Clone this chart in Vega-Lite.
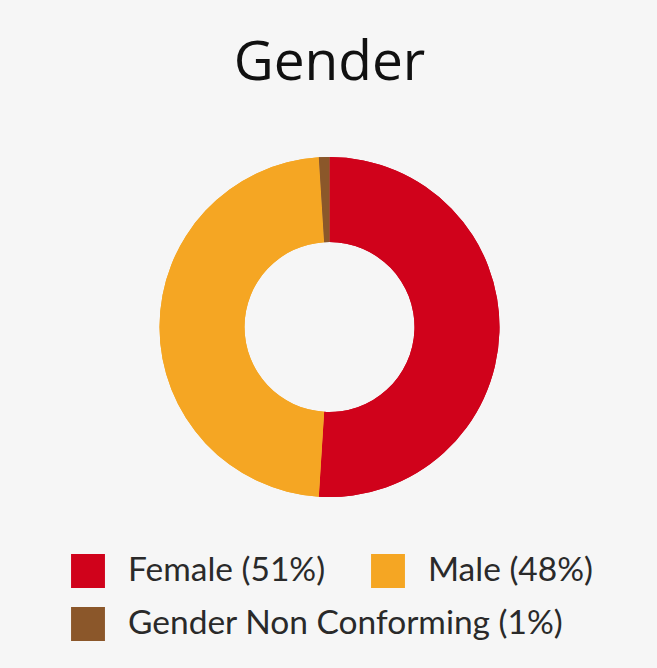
{
  "$schema": "https://vega.github.io/schema/vega-lite/v6.json",
  "autosize": "none",
  "width": 655,
  "height": 654,
  "padding": {"left": 2, "top": 0, "right": 0, "bottom": 14},
  "background": "#f6f6f6",
  "title": {
    "text": "Gender",
    "anchor": "middle",
    "orient": "top",
    "offset": -92,
    "font": "Open Sans",
    "fontSize": 55,
    "fontWeight": "normal",
    "color": "#111111"
  },
  "data": {
    "values": [
      {"gender": "Female (51%)", "value": 51, "order": 1},
      {"gender": "Male (48%)", "value": 48, "order": 2},
      {"gender": "Gender Non Conforming (1%)", "value": 1, "order": 3}
    ]
  },
  "layer": [
    {
      "mark": {"type": "arc", "outerRadius": 170, "innerRadius": 85, "stroke": null},
      "encoding": {
        "theta": {"field": "value", "type": "quantitative", "stack": true},
        "order": {"field": "order", "type": "quantitative"},
        "color": {
          "field": "gender",
          "type": "nominal",
          "scale": {
            "domain": ["Female (51%)", "Male (48%)", "Gender Non Conforming (1%)"],
            "range": ["#d0021b", "#f5a623", "#8b572a"]
          },
          "legend": {
            "title": null,
            "orient": "none",
            "legendX": 69,
            "legendY": 554,
            "direction": "horizontal",
            "values": ["Female (51%)", "Male (48%)"],
            "columnPadding": 45,
            "symbolType": "square",
            "symbolSize": 1150,
            "symbolStrokeWidth": 0,
            "symbolOpacity": 1,
            "labelOffset": 23,
            "labelFont": "Lato",
            "labelFontSize": 33.5,
            "labelColor": "#2a2a2a",
            "labelLimit": 600,
            "encode": {"labels": {"update": {"dy": {"value": 4}}}}
          }
        }
      }
    },
    {
      "mark": {"type": "arc", "outerRadius": 170, "innerRadius": 85, "stroke": null},
      "encoding": {
        "theta": {"field": "value", "type": "quantitative", "stack": true},
        "order": {"field": "order", "type": "quantitative"},
        "color": {
          "field": "gender",
          "type": "nominal",
          "scale": {
            "domain": ["Female (51%)", "Male (48%)", "Gender Non Conforming (1%)"],
            "range": ["#d0021b", "#f5a623", "#8b572a"]
          },
          "legend": {
            "title": null,
            "orient": "none",
            "legendX": 69,
            "legendY": 607,
            "direction": "horizontal",
            "values": ["Gender Non Conforming (1%)"],
            "symbolType": "square",
            "symbolSize": 1150,
            "symbolStrokeWidth": 0,
            "symbolOpacity": 1,
            "labelOffset": 23,
            "labelFont": "Lato",
            "labelFontSize": 33.5,
            "labelColor": "#2a2a2a",
            "labelLimit": 600,
            "encode": {"labels": {"update": {"dy": {"value": 4}}}}
          }
        }
      }
    }
  ],
  "resolve": {"scale": {"color": "independent", "theta": "shared"}},
  "config": {"view": {"stroke": null}}
}
